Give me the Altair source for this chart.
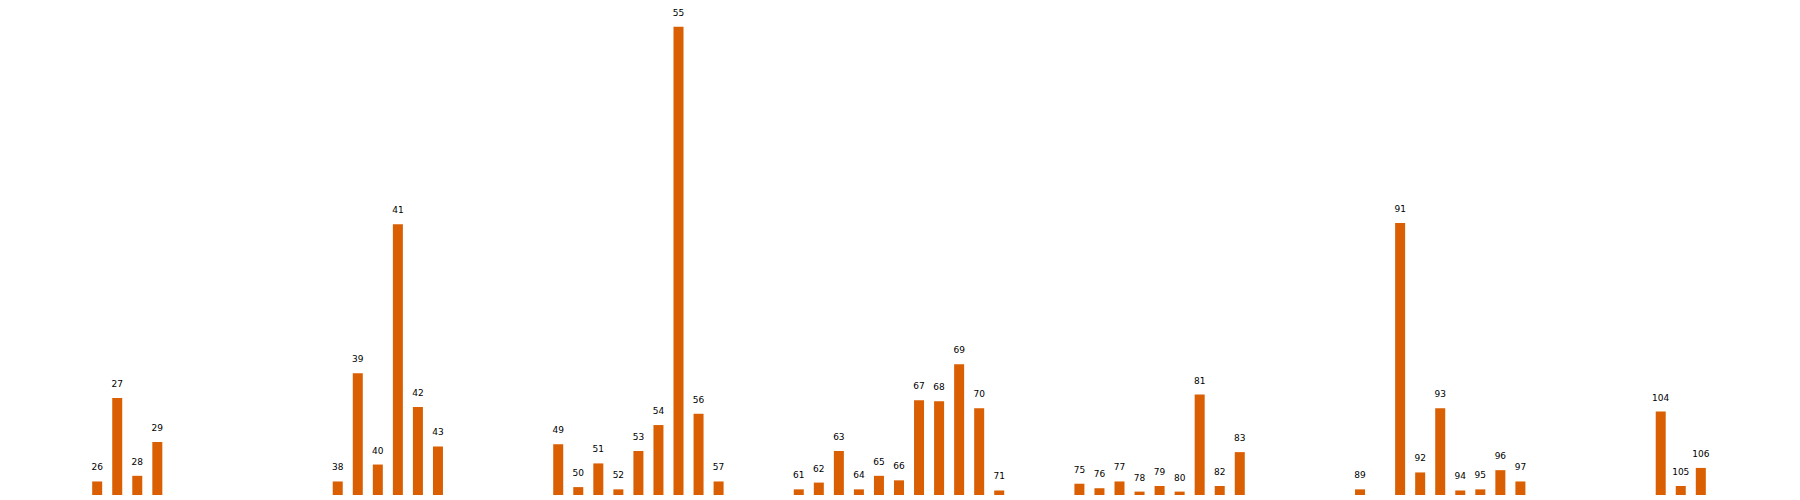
import pandas as pd
import altair as alt

positions = [26, 27, 28, 29, 38, 39, 40, 41, 42, 43,
             49, 50, 51, 52, 53, 54, 55, 56, 57,
             61, 62, 63, 64, 65, 66, 67, 68, 69, 70, 71,
             75, 76, 77, 78, 79, 80, 81, 82, 83,
             89, 91, 92, 93, 94, 95, 96, 97, 104, 105, 106]
values = [12, 86, 17, 47, 12, 108, 27, 240, 78, 43,
          45, 7, 28, 5, 39, 62, 415, 72, 12,
          5, 11, 39, 5, 17, 13, 84, 83, 116, 77, 4,
          10, 6, 12, 3, 8, 3, 89, 8, 38,
          5, 241, 20, 77, 4, 5, 22, 12, 74, 8, 24]

df = pd.DataFrame({"pos": positions, "value": values})

x_scale = alt.Scale(domain=[21.8, 110.3], nice=False, zero=False)
y_scale = alt.Scale(domain=[0, 429], nice=False)

base = alt.Chart(df).encode(
    x=alt.X("pos:Q", scale=x_scale, axis=None),
    y=alt.Y("value:Q", scale=y_scale, axis=None),
)

bars = base.mark_bar(color="#d95f02", size=10)
labels = base.mark_text(dy=-14, fontSize=9, font="DejaVu Sans", color="black").encode(
    text="pos:Q"
)

chart = (bars + labels).properties(width=1784, height=484, padding=0).configure_view(stroke=None)
chart.save("out.html", embed_options={"renderer": "svg", "actions": False})
